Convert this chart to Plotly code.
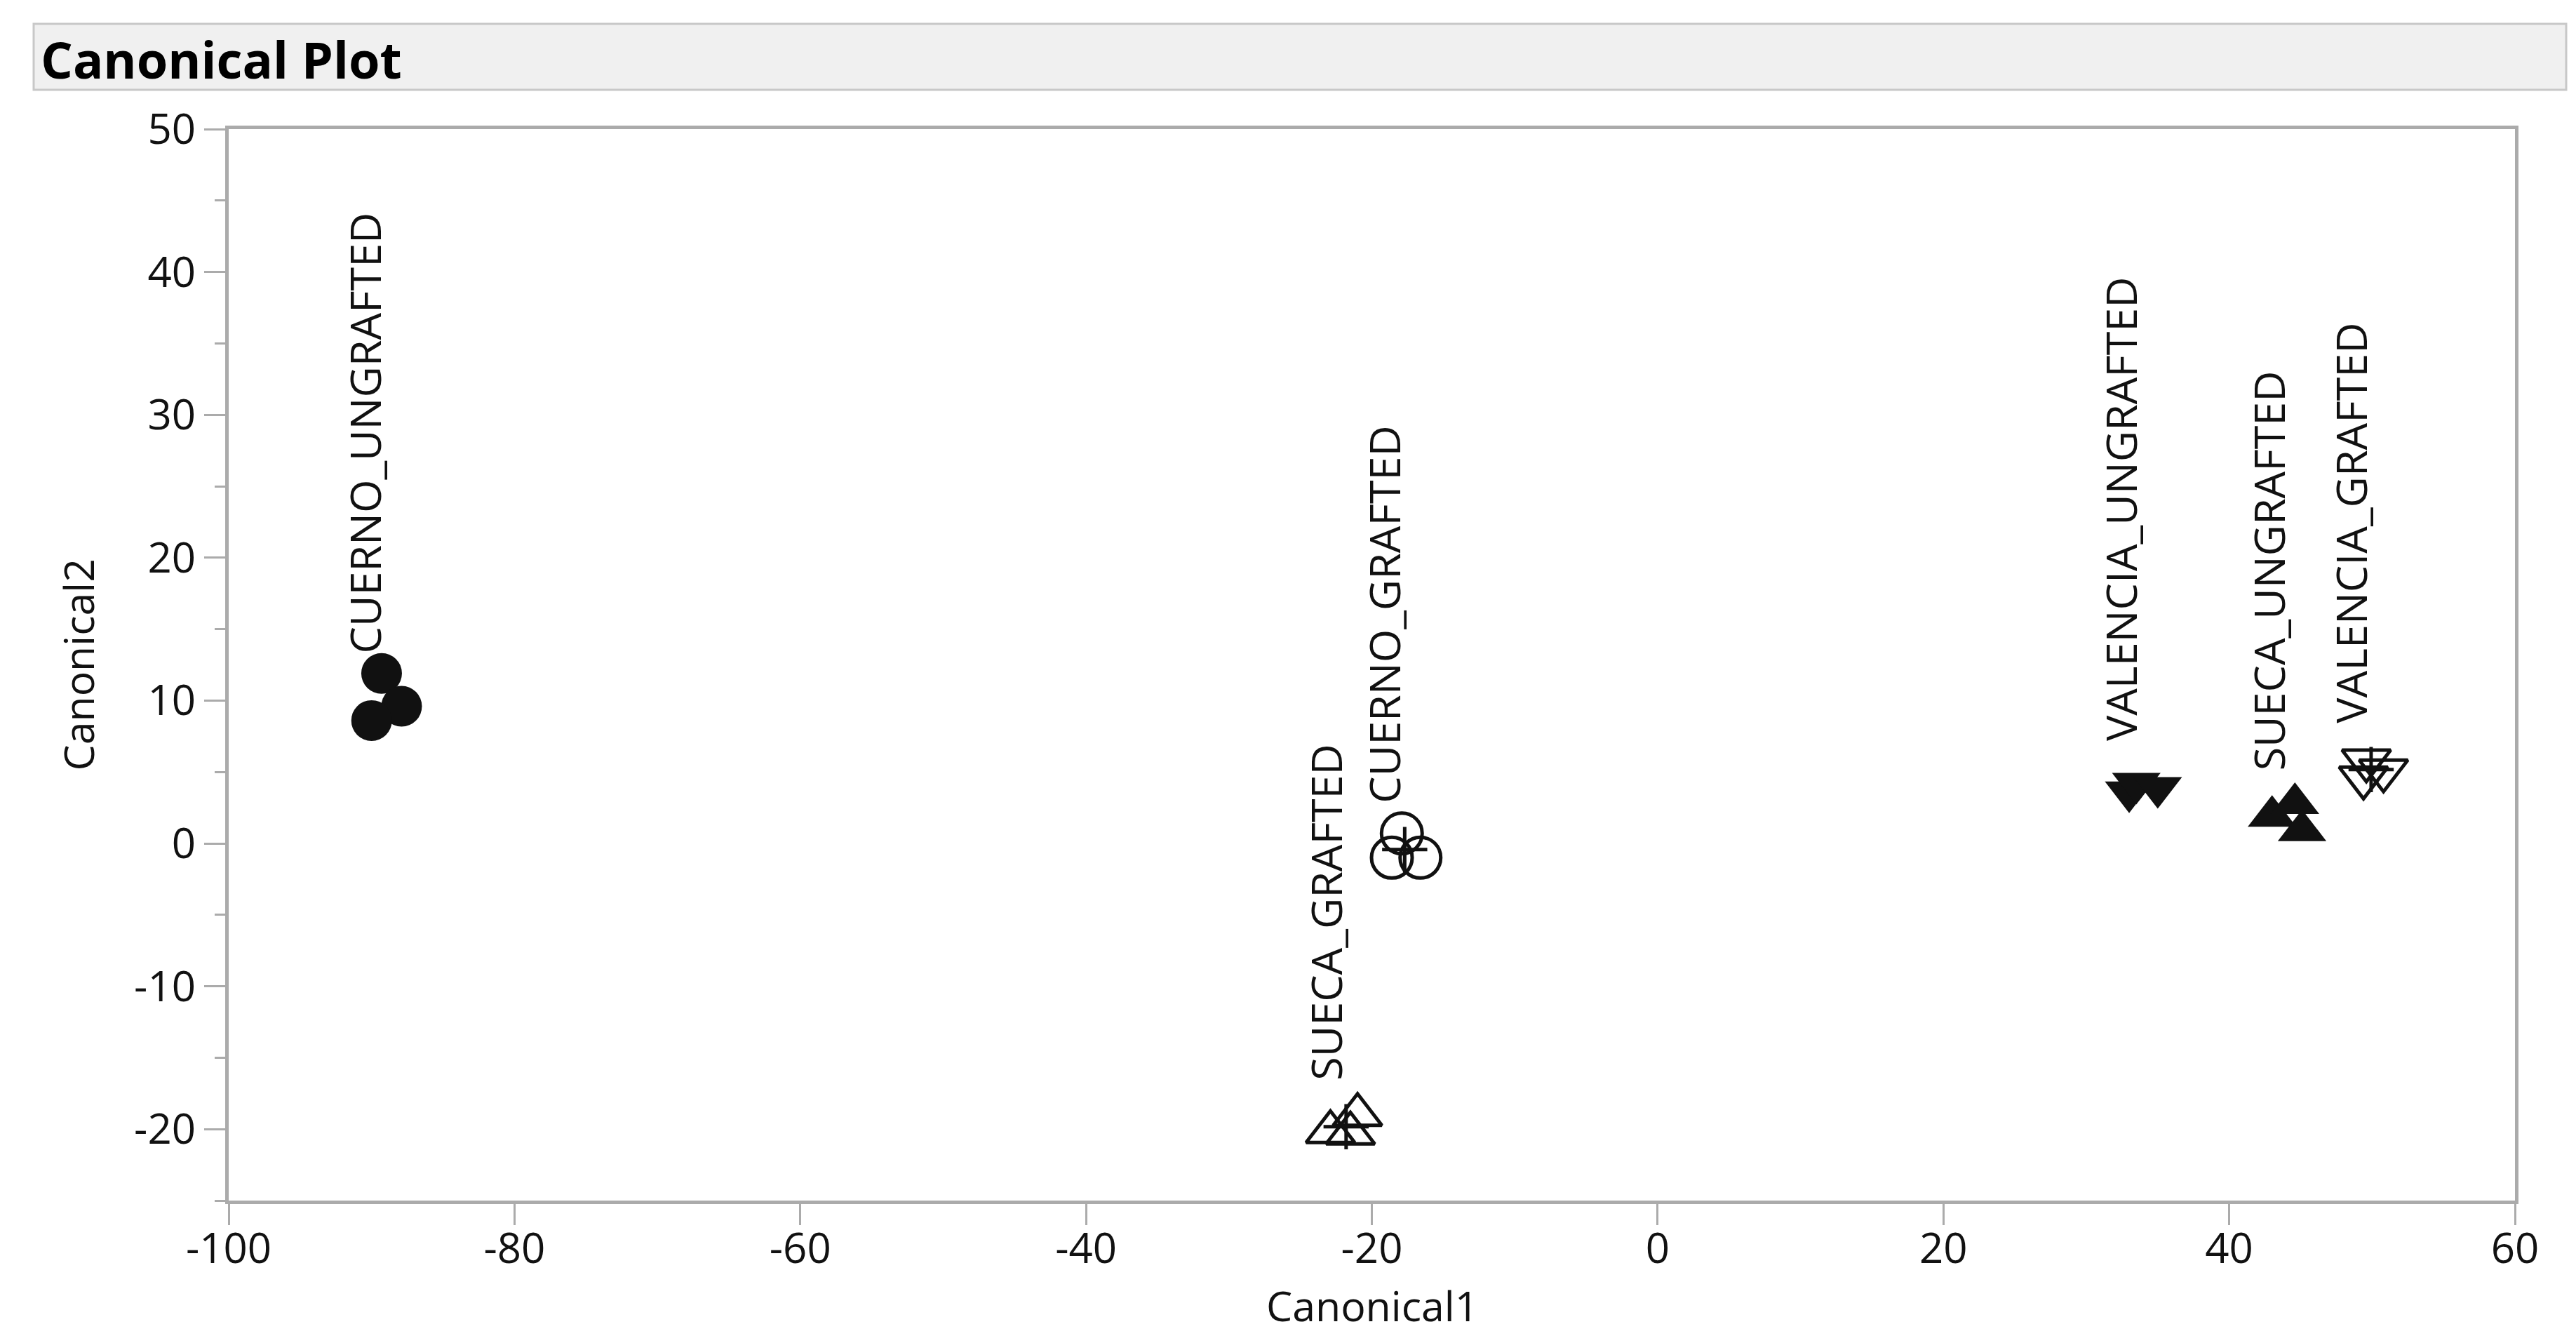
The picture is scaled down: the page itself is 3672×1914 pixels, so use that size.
import plotly.graph_objects as go

# ---------------- data ----------------
groups = ["CUERNO_UNGRAFTED", "CUERNO_GRAFTED", "SUECA_GRAFTED",
          "VALENCIA_UNGRAFTED", "SUECA_UNGRAFTED", "VALENCIA_GRAFTED"]

cuerno_ungrafted_x = [-89.3, -87.9, -90.0]
cuerno_ungrafted_y = [11.9, 9.6, 8.6]

cuerno_grafted_x = [-17.9, -18.6, -16.6]
cuerno_grafted_y = [0.7, -1.0, -1.0]

sueca_grafted_x = [-22.9, -21.0, -21.5]
sueca_grafted_y = [-20.2, -19.0, -20.3]

valencia_ungrafted_x = [33.0, 33.5, 35.0]
valencia_ungrafted_y = [3.6, 4.2, 3.9]

sueca_ungrafted_x = [43.0, 44.6, 45.1]
sueca_ungrafted_y = [1.9, 2.8, 0.9]

valencia_grafted_x = [49.6, 49.4, 50.8]
valencia_grafted_y = [5.8, 4.6, 5.1]

x_ticks = [-100, -80, -60, -40, -20, 0, 20, 40, 60]
y_ticks = [-20, -10, 0, 10, 20, 30, 40, 50]

series_x = [cuerno_ungrafted_x, cuerno_grafted_x, sueca_grafted_x,
            valencia_ungrafted_x, sueca_ungrafted_x, valencia_grafted_x]
series_y = [cuerno_ungrafted_y, cuerno_grafted_y, sueca_grafted_y,
            valencia_ungrafted_y, sueca_ungrafted_y, valencia_grafted_y]

# ---------------- styles ----------------
symbols = ["circle", "circle-open", "triangle-up-open",
           "triangle-down", "triangle-up", "triangle-down-open"]
is_open = [False, True, True, False, False, True]
FONT = "Open Sans"
INK = "#111111"
AXIS = "#ababab"

W, H = 3672, 1914
ML, MR, MT, MB = 318, 95, 176, 211
PW, PH = W - ML - MR, H - MT - MB


def px_to_paper_x(px):
    return (px - ML) / PW


def px_to_paper_y(py):
    return (H - MB - py) / PH


fig = go.Figure()

for name, xs, ys, sym, op in zip(groups, series_x, series_y, symbols, is_open):
    size = 58 if "circle" in sym else 60
    fig.add_trace(go.Scatter(
        x=xs, y=ys, mode="markers", name=name, showlegend=False,
        marker=dict(symbol=sym, size=size, color=INK,
                    line=dict(width=5 if op else 0, color=INK)),
        cliponaxis=False,
    ))
    mx = sum(xs) / len(xs)
    my = sum(ys) / len(ys)
    if op:
        fig.add_trace(go.Scatter(
            x=[mx], y=[my], mode="markers", showlegend=False,
            marker=dict(symbol="cross-thin", size=46,
                        line=dict(width=5, color=INK)),
        ))
    fig.add_annotation(
        x=mx, y=my, xref="x", yref="y", text=name, showarrow=False,
        textangle=-90, xanchor="right", yanchor="bottom",
        xshift=14, yshift=64,
        font=dict(family=FONT, size=61, color=INK),
    )

# title bar
fig.add_shape(type="rect", xref="paper", yref="paper",
              x0=px_to_paper_x(40), x1=px_to_paper_x(3650),
              y0=px_to_paper_y(120), y1=px_to_paper_y(26),
              fillcolor="#f0f0f0", line=dict(color="#c8c8c8", width=3),
              layer="below")
fig.add_annotation(xref="paper", yref="paper",
                   x=px_to_paper_x(48), y=px_to_paper_y(76),
                   xanchor="left", yanchor="middle", showarrow=False,
                   text="<b>Canonical Plot</b>",
                   font=dict(family=FONT, size=72, color="#000000"))

# axis titles
fig.add_annotation(xref="paper", yref="paper", x=0.5, y=px_to_paper_y(1852),
                   xanchor="center", yanchor="middle", showarrow=False,
                   text="Canonical1", font=dict(family=FONT, size=59, color=INK))
fig.add_annotation(xref="paper", yref="paper", x=px_to_paper_x(102), y=0.5,
                   xanchor="center", yanchor="middle", showarrow=False,
                   textangle=-90,
                   text="Canonical2", font=dict(family=FONT, size=59, color=INK))

fig.update_xaxes(range=[-100, 60], tickvals=x_ticks,
                 ticktext=[str(v) for v in x_ticks],
                 ticks="outside", ticklen=30, tickwidth=3, tickcolor=AXIS,
                 ticklabelstandoff=-18,
                 showline=True, linecolor=AXIS, linewidth=5, mirror=True,
                 showgrid=False, zeroline=False,
                 tickfont=dict(family=FONT, size=60, color=INK))
fig.update_yaxes(range=[-25, 50], tickvals=y_ticks,
                 ticktext=[str(v) for v in y_ticks],
                 ticks="outside", ticklen=30, tickwidth=3, tickcolor=AXIS,
                 minor=dict(dtick=5, tick0=0, ticks="outside", ticklen=15,
                            tickwidth=3, tickcolor=AXIS),
                 showline=True, linecolor=AXIS, linewidth=5, mirror=True,
                 showgrid=False, zeroline=False,
                 tickfont=dict(family=FONT, size=60, color=INK))

fig.update_layout(width=W, height=H,
                  margin=dict(l=ML, r=MR, t=MT, b=MB),
                  paper_bgcolor="white", plot_bgcolor="white",
                  font=dict(family=FONT, color=INK))

fig.write_html("out.html")
